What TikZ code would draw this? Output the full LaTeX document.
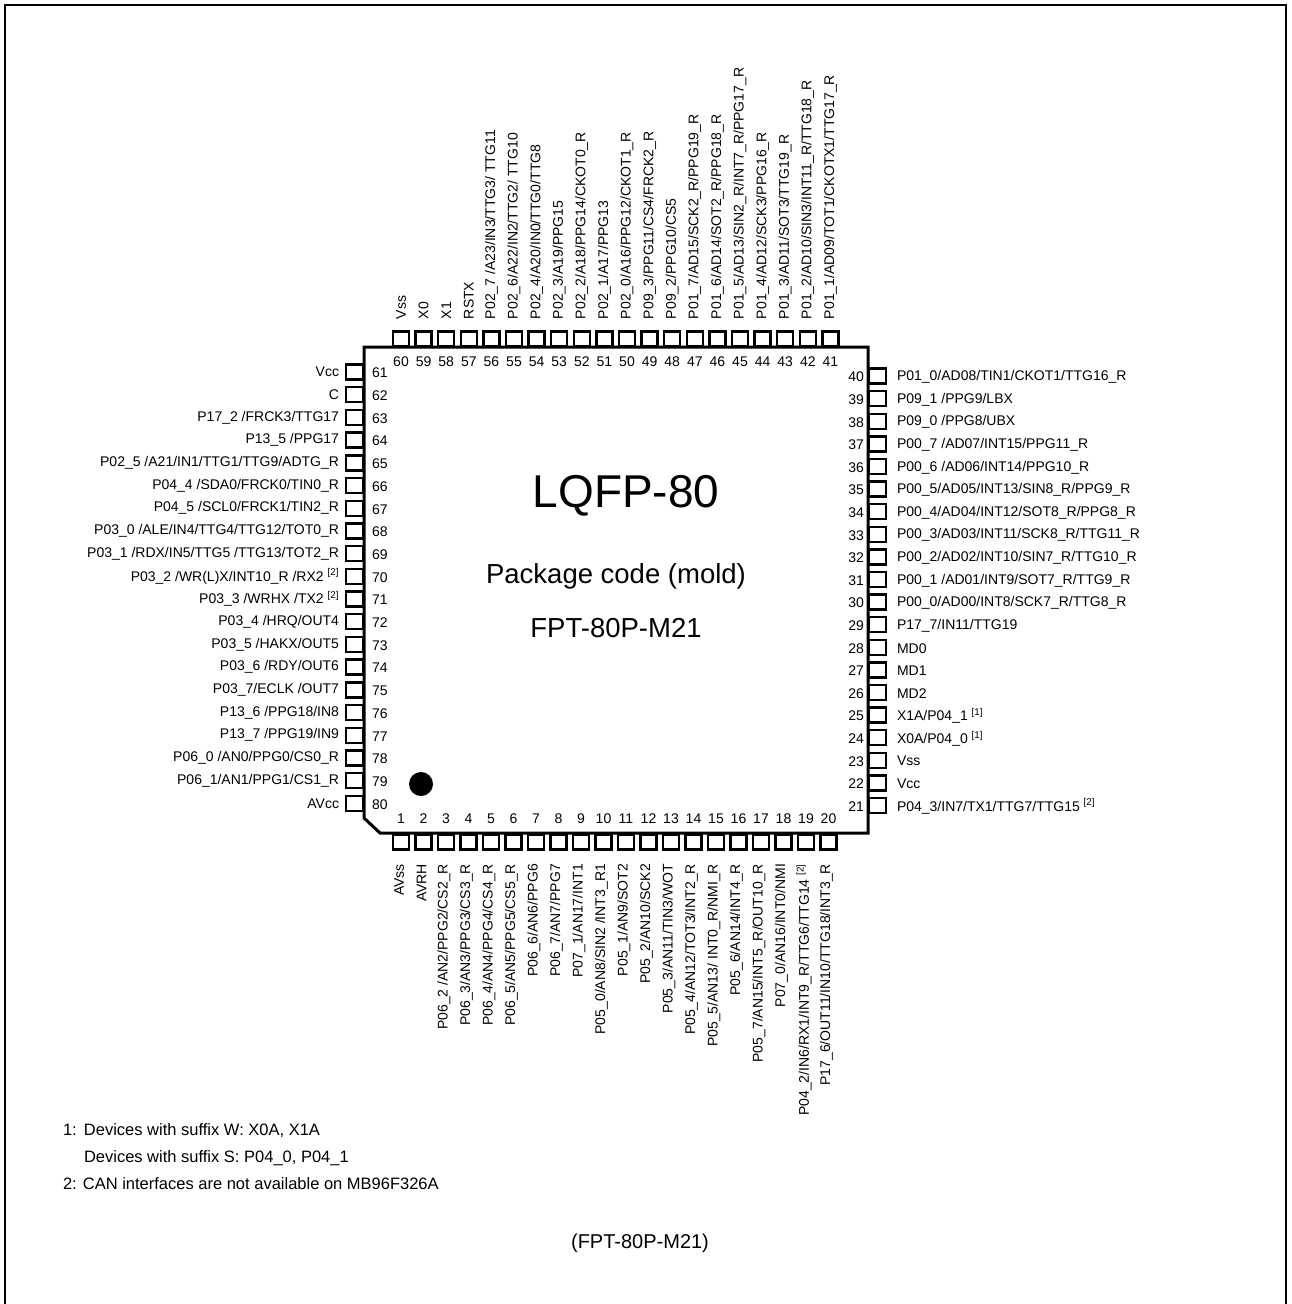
\documentclass[tikz,border=0pt]{standalone}
\usepackage{fontspec}
\setmainfont{Liberation Sans}
\usepackage{tikz}

\begin{document}
\begin{tikzpicture}[x=1pt, y=-1pt,
    every node/.style={inner sep=0pt, outer sep=0pt},
    hpad/.style={draw, line width=2.4pt, minimum width=16pt, minimum height=15pt},
    vpad/.style={draw, line width=2.4pt, minimum width=16.5pt, minimum height=15pt},
    pinno/.style={font=\fontsize{14}{14}\selectfont},
    lbl/.style={font=\fontsize{14}{16}\selectfont},
    note/.style={font=\fontsize{16.5}{18}\selectfont, anchor=west}]
    \useasboundingbox (0,0) rectangle (1291,1304);
    \draw[line width=1.5pt] (5,1304) -- (5,5) -- (1286,5) -- (1286,1304);

    % top side, 60 .. 41
    \foreach \txt [count=\k from 0] in {Vss, X0, X1, RSTX,
        {P02\_7 /A23/IN3/TTG3/ TTG11}, {P02\_6/A22/IN2/TTG2/ TTG10},
        {P02\_4/A20/IN0/TTG0/TTG8}, {P02\_3/A19/PPG15},
        {P02\_2/A18/PPG14/CKOT0\_R}, {P02\_1/A17/PPG13},
        {P02\_0/A16/PPG12/CKOT1\_R}, {P09\_3/PPG11/CS4/FRCK2\_R},
        {P09\_2/PPG10/CS5}, {P01\_7/AD15/SCK2\_R/PPG19\_R},
        {P01\_6/AD14/SOT2\_R/PPG18\_R}, {P01\_5/AD13/SIN2\_R/INT7\_R/PPG17\_R},
        {P01\_4/AD12/SCK3/PPG16\_R}, {P01\_3/AD11/SOT3/TTG19\_R},
        {P01\_2/AD10/SIN3/INT11\_R/TTG18\_R}, {P01\_1/AD09/TOT1/CKOTX1/TTG17\_R}} {
        \pgfmathsetmacro\px{401+22.6*\k}
        \pgfmathtruncatemacro\pn{60-\k}
        \node[hpad] (p\pn) at (\px,339) {};
        \node[pinno] (n\pn) at (\px,362) {\pn};
        \node[lbl, rotate=90, anchor=west] (l\pn) at (\px,319) {\txt};
    }

    % right side, 40 .. 21
    \foreach \txt [count=\k from 0] in {{P01\_0/AD08/TIN1/CKOT1/TTG16\_R},
        {P09\_1 /PPG9/LBX}, {P09\_0 /PPG8/UBX}, {P00\_7 /AD07/INT15/PPG11\_R},
        {P00\_6 /AD06/INT14/PPG10\_R}, {P00\_5/AD05/INT13/SIN8\_R/PPG9\_R},
        {P00\_4/AD04/INT12/SOT8\_R/PPG8\_R}, {P00\_3/AD03/INT11/SCK8\_R/TTG11\_R},
        {P00\_2/AD02/INT10/SIN7\_R/TTG10\_R}, {P00\_1 /AD01/INT9/SOT7\_R/TTG9\_R},
        {P00\_0/AD00/INT8/SCK7\_R/TTG8\_R}, {P17\_7/IN11/TTG19}, MD0, MD1, MD2,
        {X1A/P04\_1 \textsuperscript{[1]}}, {X0A/P04\_0 \textsuperscript{[1]}},
        Vss, Vcc, {P04\_3/IN7/TX1/TTG7/TTG15 \textsuperscript{[2]}}} {
        \pgfmathsetmacro\py{376+22.6*\k}
        \pgfmathtruncatemacro\pn{40-\k}
        \node[vpad] (p\pn) at (877.5,\py) {};
        \node[pinno, anchor=east] (n\pn) at (864,\py+1) {\pn};
        \node[lbl, anchor=west] (l\pn) at (897,\py+1) {\txt};
    }

    % left side, 61 .. 80
    \foreach \txt [count=\k from 0] in {Vcc, C, {P17\_2 /FRCK3/TTG17},
        {P13\_5 /PPG17}, {P02\_5 /A21/IN1/TTG1/TTG9/ADTG\_R},
        {P04\_4 /SDA0/FRCK0/TIN0\_R}, {P04\_5 /SCL0/FRCK1/TIN2\_R},
        {P03\_0 /ALE/IN4/TTG4/TTG12/TOT0\_R}, {P03\_1 /RDX/IN5/TTG5 /TTG13/TOT2\_R},
        {P03\_2 /WR(L)X/INT10\_R /RX2 \textsuperscript{[2]}},
        {P03\_3 /WRHX /TX2 \textsuperscript{[2]}}, {P03\_4 /HRQ/OUT4},
        {P03\_5 /HAKX/OUT5}, {P03\_6 /RDY/OUT6}, {P03\_7/ECLK /OUT7},
        {P13\_6 /PPG18/IN8}, {P13\_7 /PPG19/IN9}, {P06\_0 /AN0/PPG0/CS0\_R},
        {P06\_1/AN1/PPG1/CS1\_R}, AVcc} {
        \pgfmathsetmacro\py{372+22.7*\k}
        \pgfmathtruncatemacro\pn{61+\k}
        \node[vpad] (p\pn) at (354.5,\py) {};
        \node[pinno, anchor=west] (n\pn) at (372,\py+1) {\pn};
        \node[lbl, anchor=east] (l\pn) at (339,\py) {\txt};
    }

    % bottom side, 1 .. 20
    \foreach \txt [count=\k from 0] in {AVss, AVRH, {P06\_2 /AN2/PPG2/CS2\_R},
        {P06\_3/AN3/PPG3/CS3\_R}, {P06\_4/AN4/PPG4/CS4\_R}, {P06\_5/AN5/PPG5/CS5\_R},
        {P06\_6/AN6/PPG6}, {P06\_7/AN7/PPG7}, {P07\_1/AN17/INT1},
        {P05\_0/AN8/SIN2 /INT3\_R1}, {P05\_1/AN9/SOT2}, {P05\_2/AN10/SCK2},
        {P05\_3/AN11/TIN3/WOT}, {P05\_4/AN12/TOT3/INT2\_R},
        {P05\_5/AN13/ INT0\_R/NMI\_R}, {P05\_6/AN14/INT4\_R},
        {P05\_7/AN15/INT5\_R/OUT10\_R}, {P07\_0/AN16/INT0/NMI},
        {P04\_2/IN6/RX1/INT9\_R/TTG6/TTG14 \textsuperscript{[2]}},
        {P17\_6/OUT11/IN10/TTG18/INT3\_R}} {
        \pgfmathsetmacro\px{401+22.5*\k}
        \pgfmathtruncatemacro\pn{1+\k}
        \node[hpad] (p\pn) at (\px,842) {};
        \node[pinno] (n\pn) at (\px,819) {\pn};
        \node[lbl, rotate=90, anchor=east] (l\pn) at (\px-2,864) {\txt};
    }

    % package body
    \draw[line width=3pt] (364,818) -- (364,347) -- (868,347) -- (868,833) -- (380,833) -- cycle;
    \node[circle, fill, minimum size=24pt] (dot) at (421,784) {};

    \node[font=\fontsize{46}{50}\selectfont] (pkg) at (626,496) {LQFP-80};
    \node[font=\fontsize{27.5}{30}\selectfont] (code) at (616,576) {Package code (mold)};
    \node[font=\fontsize{27.5}{30}\selectfont] (mold) at (616,628) {FPT-80P-M21};

    % notes
    \node[note] (fn1) at (63,1131) {\makebox[21pt][l]{1:}Devices with suffix W: X0A, X1A};
    \node[note] (fn1b) at (84,1158) {Devices with suffix S: P04\_0, P04\_1};
    \node[note] (fn2) at (63,1184) {2: CAN interfaces are not available on MB96F326A};
    \node[font=\fontsize{20}{24}\selectfont] (caption) at (640,1243) {(FPT-80P-M21)};
\end{tikzpicture}
\end{document}
